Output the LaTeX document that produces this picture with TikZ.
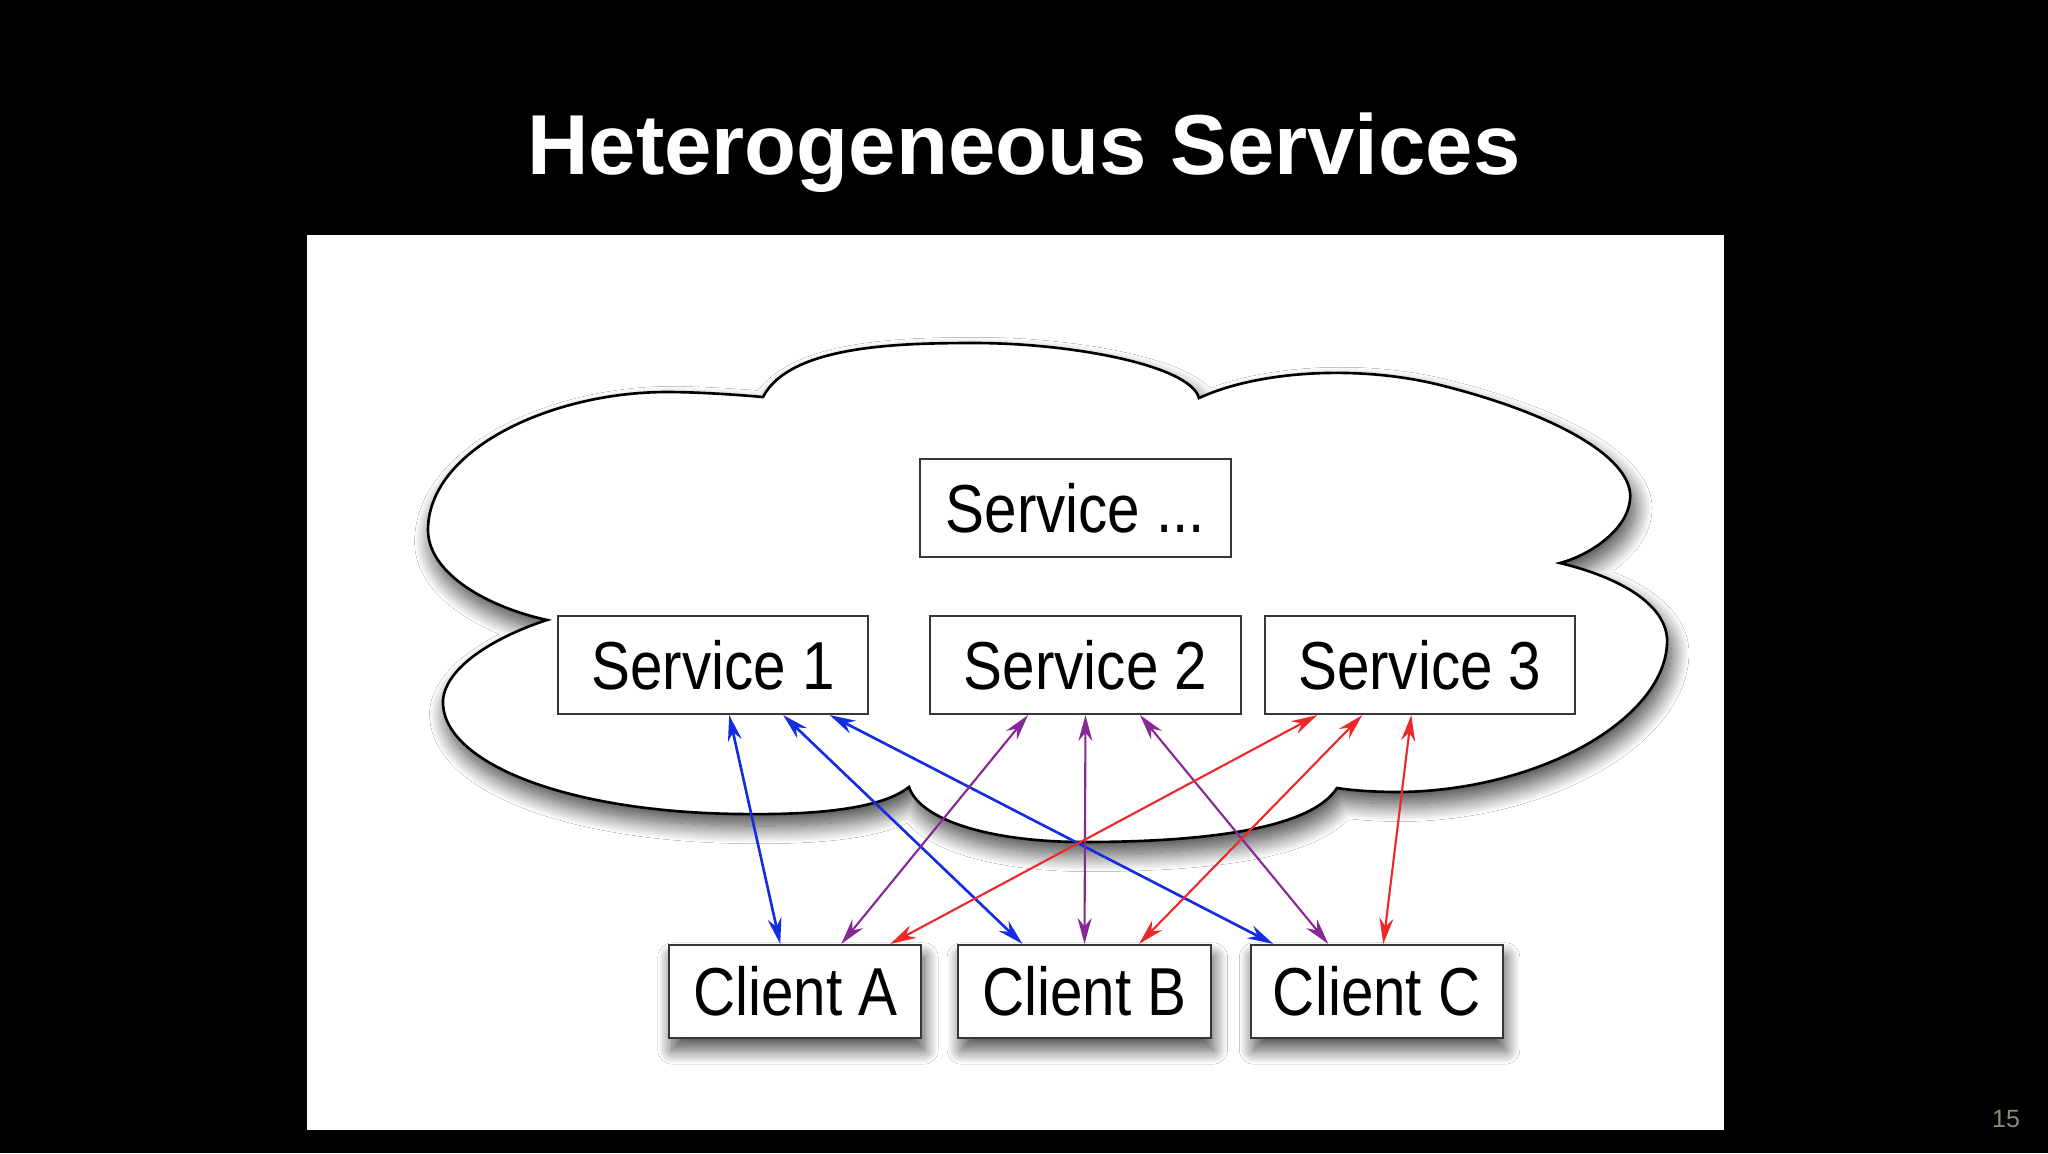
\documentclass[tikz,border=0pt]{standalone}
\usepackage{fontspec}
\setmainfont{Liberation Sans}
\newfontfamily\boxfont[FakeStretch=0.86]{Liberation Sans}
\usepackage{xcolor}
\usepackage{tikz}
\usetikzlibrary{positioning,arrows.meta,shadows.blur}
\definecolor{linkblue}{RGB}{20,45,225}
\definecolor{linkpurple}{RGB}{135,40,150}
\definecolor{linkred}{RGB}{238,40,40}
\definecolor{boxgray}{RGB}{55,55,55}
\definecolor{pagegray}{RGB}{140,140,115}

\begin{document}
\begin{tikzpicture}[x=0.01cm, y=-0.01cm,
    service/.style={rectangle, draw=boxgray, line width=0.6pt, fill=white, inner sep=0pt,
        minimum width=3.1cm, minimum height=0.98cm, font=\boxfont\fontsize{19.3pt}{22pt}\selectfont},
    client/.style={service, minimum width=2.52cm, minimum height=0.93cm,
        blur shadow={shadow xshift=0.8pt, shadow yshift=-3.4pt, shadow blur radius=4pt, shadow blur steps=30, shadow opacity=70}},
    cloudshape/.style={draw=black, line width=0.75pt, fill=white,
        blur shadow={shadow xshift=1.2pt, shadow yshift=-3.4pt, shadow blur radius=5pt, shadow blur steps=30, shadow opacity=75}},
    link/.style={{Stealth[length=2.6mm,width=1.4mm]}-{Stealth[length=2.6mm,width=1.4mm]}, line width=0.6pt}]
        \fill[black] (0,0) rectangle (2048,1153);
        \fill[white] (307,235) rectangle (1724,1130);
        \node (title) [anchor=base, text=white, font=\bfseries\fontsize{24.2pt}{28pt}\selectfont] at (1024,174) {Heterogeneous Services};
        \node (page) [anchor=base, text=pagegray, font=\fontsize{7.1pt}{8pt}\selectfont] at (2006,1127) {15};

        \draw[cloudshape] (763,397) .. controls (790,345) and (900,343) .. (975,343)
            .. controls (1070,343) and (1190,365) .. (1199,398)
            .. controls (1260,370) and (1360,365) .. (1440,385)
            .. controls (1560,415) and (1635,460) .. (1630,500)
            .. controls (1627,530) and (1590,555) .. (1560,563)
            .. controls (1630,580) and (1670,610) .. (1667,645)
            .. controls (1662,720) and (1540,790) .. (1400,792)
            .. controls (1370,792) and (1350,790) .. (1337,788)
            .. controls (1310,830) and (1200,842) .. (1084,842)
            .. controls (990,842) and (920,820) .. (909,787)
            .. controls (880,810) and (810,815) .. (740,814)
            .. controls (560,812) and (440,760) .. (443,700)
            .. controls (446,665) and (500,635) .. (547,620)
            .. controls (480,605) and (428,570) .. (428,530)
            .. controls (428,450) and (550,392) .. (667,392)
            .. controls (700,392) and (740,395) .. (763,397) -- cycle;

        \node (s2) [service] at (1085.5,665) {Service 2};
        \node (s1) [service, left=0.6cm of s2] {Service 1};
        \node (s3) [service, right=0.22cm of s2] {Service 3};
        \node (smore) [service, above=0.57cm of s2, xshift=-0.1cm] {Service ...};

        \node (cb) [client] at (1084.5,991.5) {Client B};
        \node (ca) [client, left=0.35cm of cb] {Client A};
        \node (cc) [client, right=0.38cm of cb] {Client C};

        \draw[link, linkblue, line width=0.75pt] ([xshift=0.16cm]s1.south) -- ([xshift=-0.15cm]ca.north);
        \draw[link, linkblue, line width=0.75pt] ([xshift=0.70cm]s1.south) -- ([xshift=-0.62cm]cb.north);
        \draw[link, linkblue, line width=0.75pt] ([xshift=1.165cm]s1.south) -- ([xshift=-1.035cm]cc.north);
        \draw[link, linkpurple] ([xshift=-0.575cm]s2.south) -- ([xshift=0.46cm]ca.north);
        \draw[link, linkpurple] (s2.south) -- (cb.north);
        \draw[link, linkpurple] ([xshift=0.545cm]s2.south) -- ([xshift=-0.485cm]cc.north);
        \draw[link, linkred] ([xshift=-1.025cm]s3.south) -- ([xshift=0.95cm]ca.north);
        \draw[link, linkred] ([xshift=-0.575cm]s3.south) -- ([xshift=0.545cm]cb.north);
        \draw[link, linkred] ([xshift=-0.085cm]s3.south) -- ([xshift=0.065cm]cc.north);
    \end{tikzpicture}
\end{document}
